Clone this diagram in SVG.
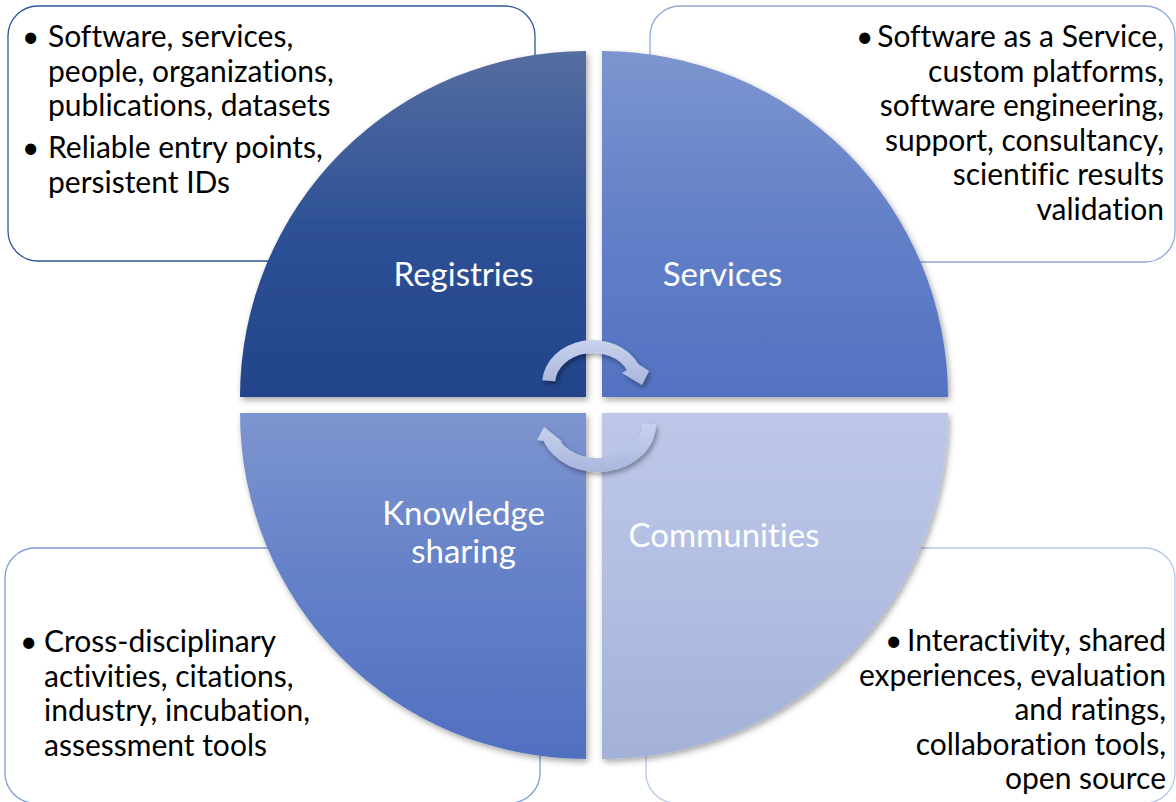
<svg xmlns="http://www.w3.org/2000/svg" width="1176" height="802" viewBox="0 0 1176 802">
  <defs>
    <linearGradient id="gTL" gradientUnits="userSpaceOnUse" x1="0" y1="52" x2="0" y2="397">
      <stop offset="0" stop-color="#566da0"/>
      <stop offset="0.5" stop-color="#2e5196"/>
      <stop offset="1" stop-color="#21448a"/>
    </linearGradient>
    <linearGradient id="gTR" gradientUnits="userSpaceOnUse" x1="0" y1="52" x2="0" y2="397">
      <stop offset="0" stop-color="#7d95cf"/>
      <stop offset="0.5" stop-color="#6380c8"/>
      <stop offset="1" stop-color="#5272c1"/>
    </linearGradient>
    <linearGradient id="gBL" gradientUnits="userSpaceOnUse" x1="0" y1="413" x2="0" y2="759">
      <stop offset="0" stop-color="#7d95cf"/>
      <stop offset="0.5" stop-color="#6380c8"/>
      <stop offset="1" stop-color="#5070c0"/>
    </linearGradient>
    <linearGradient id="gBR" gradientUnits="userSpaceOnUse" x1="0" y1="413" x2="0" y2="759">
      <stop offset="0" stop-color="#bdc8e8"/>
      <stop offset="0.5" stop-color="#b2bee2"/>
      <stop offset="1" stop-color="#a3b1d8"/>
    </linearGradient>
    <linearGradient id="gArrow" x1="0" y1="0" x2="0" y2="1">
      <stop offset="0" stop-color="#c8d2ec"/>
      <stop offset="1" stop-color="#a9b7dc"/>
    </linearGradient>
    <filter id="shadow" x="-10%" y="-10%" width="130%" height="130%">
      <feDropShadow dx="2" dy="3" stdDeviation="3" flood-color="#000" flood-opacity="0.35"/>
    </filter>
    <filter id="ashadow" x="-20%" y="-20%" width="150%" height="150%">
      <feDropShadow dx="2" dy="3" stdDeviation="2.5" flood-color="#000" flood-opacity="0.35"/>
    </filter>
  </defs>
  <style>
    .box { fill: #ffffff; stroke-width: 1.3; }
    .txt { font-family: Lato, "Liberation Sans", sans-serif; font-size: 30px; fill: #000000; font-variant-ligatures: none; }
    .lbl { font-family: Lato, "Liberation Sans", sans-serif; font-size: 33px; fill: #ffffff; text-anchor: middle; font-variant-ligatures: none; }
    .r { text-anchor: end; }
    .wedge { filter: url(#shadow); }
    .arrow { fill: url(#gArrow); filter: url(#ashadow); }
  </style>
  <rect width="1176" height="802" fill="#ffffff"/>

  <g id="box-registries">
    <rect class="box" x="8" y="6" width="527" height="255" rx="30" stroke="#2f5597"/>
    <text class="txt" x="22" y="47">•</text>
    <text class="txt" x="48" y="47">Software, services,</text>
    <text class="txt" x="48" y="81.5">people, organizations,</text>
    <text class="txt" x="48" y="116">publications, datasets</text>
    <text class="txt" x="22" y="158">•</text>
    <text class="txt" x="48" y="158">Reliable entry points,</text>
    <text class="txt" x="48" y="192.5">persistent IDs</text>
  </g>

  <g id="box-services">
    <rect class="box" x="650" y="6" width="525" height="256" rx="30" stroke="#8faadc"/>
    <text class="txt" x="856" y="47">•</text>
    <text class="txt r" x="1164" y="47">Software as a Service,</text>
    <text class="txt r" x="1164" y="81.5">custom platforms,</text>
    <text class="txt r" x="1164" y="116">software engineering,</text>
    <text class="txt r" x="1164" y="150.5">support, consultancy,</text>
    <text class="txt r" x="1164" y="185">scientific results</text>
    <text class="txt r" x="1164" y="219.5">validation</text>
  </g>

  <g id="box-knowledge">
    <rect class="box" x="5" y="548" width="535" height="255" rx="30" stroke="#7f9bd8"/>
    <text class="txt" x="20" y="652">•</text>
    <text class="txt" x="44" y="652">Cross-disciplinary</text>
    <text class="txt" x="44" y="686.5">activities, citations,</text>
    <text class="txt" x="44" y="721">industry, incubation,</text>
    <text class="txt" x="44" y="755.5">assessment tools</text>
  </g>

  <g id="box-communities">
    <rect class="box" x="646" y="548" width="529" height="255" rx="30" stroke="#b4c7e7"/>
    <text class="txt" x="885" y="651">•</text>
    <text class="txt r" x="1166" y="651">Interactivity, shared</text>
    <text class="txt r" x="1166" y="685.5">experiences, evaluation</text>
    <text class="txt r" x="1166" y="720">and ratings,</text>
    <text class="txt r" x="1166" y="754.5">collaboration tools,</text>
    <text class="txt r" x="1166" y="789">open source</text>
  </g>

  <g id="node-registries">
    <path class="wedge" d="M 586 397 L 240 397 A 346 346 0 0 1 586 51 Z" fill="url(#gTL)"/>
    <text class="lbl" x="463.5" y="286">Registries</text>
  </g>
  <g id="node-services">
    <path class="wedge" d="M 602 397 L 602 51 A 346 346 0 0 1 948 397 Z" fill="url(#gTR)"/>
    <text class="lbl" x="722.5" y="286">Services</text>
  </g>
  <g id="node-knowledge">
    <path class="wedge" d="M 586 413 L 586 759 A 346 346 0 0 1 240 413 Z" fill="url(#gBL)"/>
    <text class="lbl" x="463.5" y="525">Knowledge</text>
    <text class="lbl" x="463.5" y="563">sharing</text>
  </g>
  <g id="node-communities">
    <path class="wedge" d="M 602 413 L 948 413 A 346 346 0 0 1 602 759 Z" fill="url(#gBR)"/>
    <text class="lbl" x="724" y="547">Communities</text>
  </g>

  <g id="connectors">
    <path class="arrow" d="M 542.2 380.2 A 51 44 0 0 1 638.5 364.2 L 649 371 L 642 385 L 622 373 L 626.9 370 A 38 31 0 0 0 555.1 381.3 Z"/>
    <path class="arrow" d="M 656 424 A 58 48 0 0 1 543.7 441 L 537 440 L 544 427 L 563 442 L 559.9 441 A 44 34 0 0 0 642 424 Z"/>
  </g>
</svg>
